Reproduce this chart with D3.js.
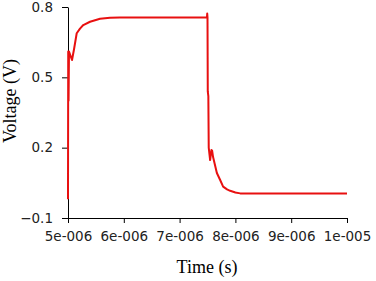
<!DOCTYPE html>
<html>
<head>
<meta charset="UTF-8"/>
<style>
  body { margin: 0; background: #fff; }
  svg { display: block; }
  .tick text { font-family: "DejaVu Sans", sans-serif; font-size: 13.5px; fill: #222; }
  .axis_label { font-family: "Liberation Serif", "Times New Roman", serif; font-size: 18px; fill: #000; }
</style>
</head>
<body>
<svg width="376" height="281"></svg>
<script src="https://d3js.org/d3.v7.min.js"></script>
<script>
// time in seconds, voltage in volts
const times = [5.0e-6, 5.004e-6, 5.01e-6, 5.018e-6, 5.072e-6, 5.108e-6, 5.156e-6, 5.215e-6, 5.274e-6,
  5.395e-6, 5.574e-6, 5.753e-6, 5.93e-6, 7.49e-6, 7.495e-6, 7.50e-6, 7.505e-6, 7.515e-6, 7.522e-6,
  7.547e-6, 7.57e-6, 7.583e-6, 7.60e-6, 7.668e-6, 7.727e-6, 7.78e-6, 7.85e-6, 7.906e-6, 8.0e-6, 8.086e-6, 1.0e-5];
const volts = [-0.02, 0.61, 0.40, 0.61, 0.574, 0.62, 0.688, 0.708, 0.723,
  0.737, 0.750, 0.754, 0.755, 0.755, 0.772, 0.755, 0.44, 0.42, 0.20,
  0.147, 0.19, 0.187, 0.16, 0.092, 0.062, 0.034, 0.022, 0.016, 0.009, 0.005, 0.005];
const xTicks = [5e-6, 6e-6, 7e-6, 8e-6, 9e-6, 1e-5];
const xTickLabels = ["5e-006", "6e-006", "7e-006", "8e-006", "9e-006", "1e-005"];
const yTicks = [-0.1, 0.2, 0.5, 0.8];

const svg = d3.select('svg');
const plotLeft = 68, plotRight = 347, plotTop = 7, plotBottom = 218;

const x = d3.scaleLinear().domain([5e-6, 1e-5]).range([plotLeft, plotRight]);
const y = d3.scaleLinear().domain([-0.1, 0.8]).range([plotBottom, plotTop]);

// axes
svg.append('g')
  .attr('transform', `translate(0, ${plotBottom})`)
  .call(d3.axisBottom(x).tickValues(xTicks).tickSize(5).tickSizeOuter(0).tickPadding(8)
    .tickFormat((d, i) => xTickLabels[i]));

svg.append('g')
  .attr('transform', `translate(${plotLeft}, 0)`)
  .call(d3.axisLeft(y).tickValues(yTicks).tickSize(6).tickSizeOuter(0).tickPadding(9)
    .tickFormat(d3.format('.1f')));

// curve
const pts = times.map((t, i) => [t, volts[i]]);
svg.append('path')
  .datum(pts)
  .attr('fill', 'none')
  .attr('stroke', '#e81010')
  .attr('stroke-width', 2)
  .attr('stroke-linejoin', 'round')
  .attr('d', d3.line().x(d => x(d[0])).y(d => y(d[1])));

// labels
svg.append('text')
  .attr('class', 'axis_label')
  .attr('x', 207)
  .attr('y', 273)
  .attr('text-anchor', 'middle')
  .text('Time (s)');

svg.append('text')
  .attr('class', 'axis_label')
  .attr('transform', 'translate(16, 101) rotate(-90)')
  .attr('text-anchor', 'middle')
  .text('Voltage (V)');
</script>
</body>
</html>
